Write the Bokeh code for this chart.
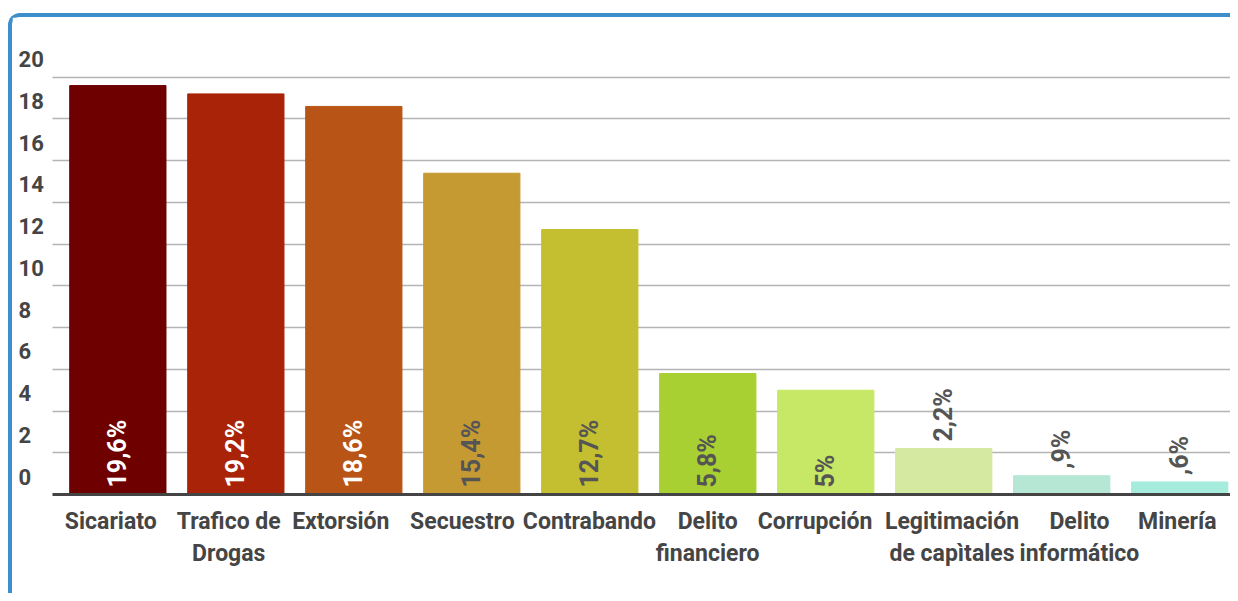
import math
from bokeh.plotting import figure
from bokeh.models import ColumnDataSource, FixedTicker, Range1d
from bokeh.core.properties import value
from bokeh.embed import file_html
from bokeh.resources import INLINE

# ---- data ----
categories = ["Sicariato", "Trafico de\nDrogas", "Extorsión", "Secuestro", "Contrabando",
              "Delito\nfinanciero", "Corrupción", "Legitimación\nde capìtales",
              "Delito\ninformático", "Minería"]
values = [19.6, 19.2, 18.6, 15.4, 12.7, 5.8, 5.0, 2.2, 0.9, 0.6]
value_labels = ["19,6%", "19,2%", "18,6%", "15,4%", "12,7%", "5,8%", "5%", "2,2%", ",9%", ",6%"]
y_ticks = [0, 2, 4, 6, 8, 10, 12, 14, 16, 18, 20]

# ---- styling ----
bar_colors = ["#6e0000", "#a82308", "#b85516", "#c69a33", "#c4bf30",
              "#a9d032", "#c7e866", "#d5e9a1", "#b6e6d4", "#a6ecdc"]
label_text_colors = ["#ffffff", "#ffffff", "#ffffff", "#555555", "#555555",
                     "#555555", "#555555", "#555555", "#555555", "#555555"]
tick_shift = [-0.06, -0.06, -0.11, -0.08, -0.003, -0.001, -0.09, 0.07, 0.15, -0.02]
inside_threshold = 3.0
FONT = "Roboto"
TXT = "#454545"

# layout in pixels (frame starts at the canvas' left edge)
W, H = 1222, 580
FRAME_W = W - 4
PX_PER_BAND = 117.6
FIRST_CENTER_PX = 105.0
GRID_LEFT_PX = 40.0
YLABEL_LEFT_PX = 6.0
x_start = -FIRST_CENTER_PX / PX_PER_BAND
x_end = x_start + FRAME_W / PX_PER_BAND
grid_left = x_start + GRID_LEFT_PX / PX_PER_BAND
ylabel_x = x_start + YLABEL_LEFT_PX / PX_PER_BAND

xs = list(range(len(categories)))
inside = [v >= inside_threshold for v in values]
src = ColumnDataSource(dict(
    x=xs, value=values, color=bar_colors, label=value_labels, label_color=label_text_colors,
    label_y=[0 if ins else v for ins, v in zip(inside, values)],
))

p = figure(width=W, height=H, output_backend="svg", toolbar_location=None,
           x_range=Range1d(x_start, x_end), y_range=Range1d(0, 22),
           min_border_left=0, min_border_right=0, min_border_top=18, min_border_bottom=103)
p.styles = {"border-top": "4px solid #3d8fcc", "border-left": "4px solid #3d8fcc",
            "border-top-left-radius": "12px", "margin-top": "13px", "margin-left": "8px"}
p.outline_line_color = None
p.background_fill_color = "white"

p.vbar(x="x", top="value", bottom=0, width=0.816, fill_color="color", line_color="color", source=src)

p.text(x="x", y="label_y", text="label", angle=math.pi / 2, text_align="left",
       text_baseline="middle", text_color="label_color", y_offset=-7,
       text_font=value(FONT), text_font_style="bold", text_font_size="25px", source=src)

# y gridlines (start right of the y labels)
p.ygrid.ticker = FixedTicker(ticks=y_ticks)
p.ygrid.grid_line_color = "#b4b4b4"
p.ygrid.grid_line_width = 1.5
p.ygrid.cross_bounds = (grid_left, x_end)
p.xgrid.visible = False

# y labels above their gridlines
p.yaxis.visible = False
ysrc = ColumnDataSource(dict(x=[ylabel_x] * len(y_ticks), y=y_ticks, t=[str(t) for t in y_ticks]))
p.text(x="x", y="y", text="t", source=ysrc, y_offset=-10,
       text_align="left", text_baseline="bottom", text_font=value(FONT),
       text_font_style="bold", text_font_size="22px", text_color=TXT)

# x axis
ticks = [i + s for i, s in zip(xs, tick_shift)]
ax = p.xaxis[0]
ax.bounds = (grid_left, x_end)
ax.ticker = FixedTicker(ticks=ticks)
ax.major_label_overrides = {t: c for t, c in zip(ticks, categories)}
ax.axis_line_color = "#444444"
ax.axis_line_width = 3
ax.major_tick_line_color = None
ax.minor_tick_line_color = None
ax.major_label_standoff = 7
ax.major_label_text_font = FONT
ax.major_label_text_font_style = "bold"
ax.major_label_text_font_size = "23px"
ax.major_label_text_line_height = 1.2
ax.major_label_text_color = TXT

open("out.html", "w").write(file_html(p, INLINE))
